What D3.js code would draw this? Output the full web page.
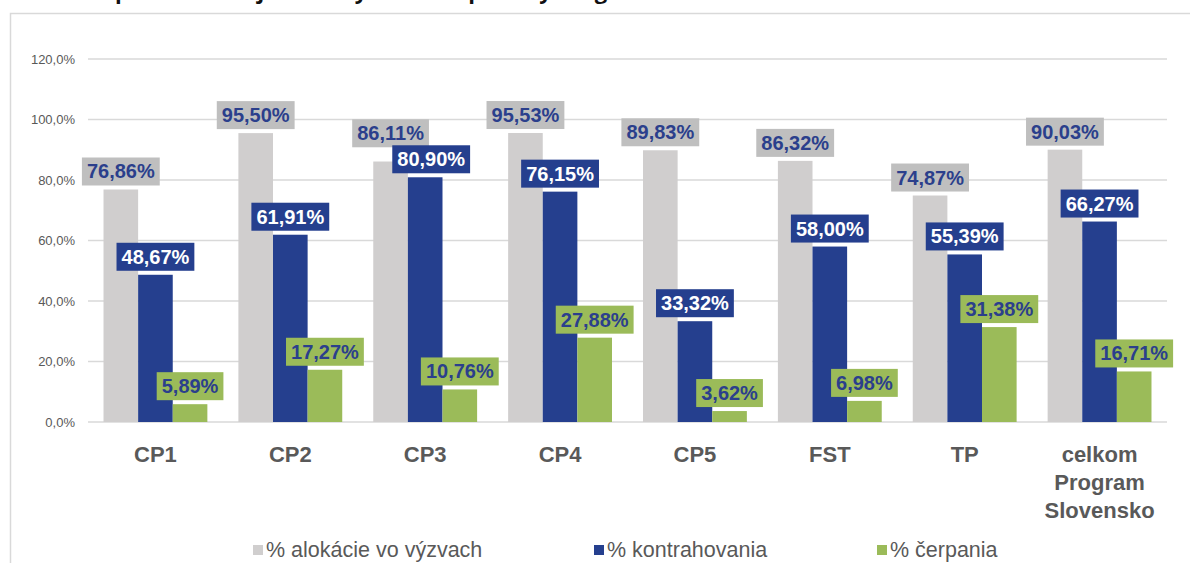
<!DOCTYPE html>
<html>
<head>
<meta charset="utf-8">
<script src="https://cdn.jsdelivr.net/npm/d3@7"></script>
<style>
  body { margin: 0; background: #fff; }
  svg { display: block; font-family: "Liberation Sans", Arial, sans-serif; }
</style>
</head>
<body>
<div id="wrapper"></div>
<script>
// data
const categories = ["CP1", "CP2", "CP3", "CP4", "CP5", "FST", "TP", "celkom Program Slovensko"];
const alokacia = [76.86, 95.50, 86.11, 95.53, 89.83, 86.32, 74.87, 90.03];
const kontrahovanie = [48.67, 61.91, 80.90, 76.15, 33.32, 58.00, 55.39, 66.27];
const cerpanie = [5.89, 17.27, 10.76, 27.88, 3.62, 6.98, 31.38, 16.71];
const seriesNames = ["% alokácie vo výzvach", "% kontrahovania", "% čerpania"];
const yTicks = [0, 20, 40, 60, 80, 100, 120];

const W = 1190, H = 563;
const colors = ["#d0cece", "#253f8e", "#9bbb59"];
const boxColors = ["#bfbfbf", "#253f8e", "#9bbb59"];
const labelColors = ["#2b3f8c", "#ffffff", "#2b3f8c"];

const series = [alokacia, kontrahovanie, cerpanie];

const svg = d3.select("#wrapper").append("svg")
  .attr("width", W).attr("height", H);

// title, cut off at the top edge (only the bottom of the glyphs shows)
svg.append("text")
  .attr("x", 8).attr("y", -1)
  .style("font-family", "'Open Sans', sans-serif")
  .style("font-size", "22px")
  .style("font-weight", "bold")
  .attr("fill", "#111")
  .text("Graf 1: Implementácia jednotlivých cieľov politiky Programu Slovensko k 31.12.2024");

// outer frame
svg.append("rect")
  .attr("x", 10.5).attr("y", 13.5)
  .attr("width", W + 20).attr("height", H)
  .attr("fill", "#fff")
  .attr("stroke", "#d9d9d9").attr("stroke-width", 1.5);

const plotLeft = 88, plotRight = 1167;

const y = d3.scaleLinear().domain([0, 120]).range([422, 59]);

const x0 = d3.scaleBand()
  .domain(categories)
  .range([plotLeft, plotRight])
  .paddingInner(0.23)
  .paddingOuter(0.115);

const x1 = d3.scaleBand()
  .domain([0, 1, 2])
  .range([0, x0.bandwidth()]);

// grid lines
svg.append("g").selectAll("line")
  .data(yTicks)
  .join("line")
  .attr("x1", plotLeft).attr("x2", plotRight)
  .attr("y1", d => y(d)).attr("y2", d => y(d))
  .attr("stroke", "#d9d9d9").attr("stroke-width", 1.5);

// y axis labels
const fmt = d => d3.format(".1f")(d).replace(".", ",") + "%";
svg.append("g").selectAll("text")
  .data(yTicks)
  .join("text")
  .attr("x", 75).attr("y", d => y(d) + 4.5)
  .attr("text-anchor", "end")
  .attr("fill", "#595959")
  .style("font-size", "13px")
  .text(fmt);

// bars
const flat = [];
series.forEach((vals, s) => vals.forEach((v, i) => flat.push({s, i, v})));

svg.append("g").selectAll("rect")
  .data(flat)
  .join("rect")
  .attr("x", d => x0(categories[d.i]) + x1(d.s))
  .attr("y", d => y(d.v))
  .attr("width", x1.bandwidth())
  .attr("height", d => y(0) - y(d.v))
  .attr("fill", d => colors[d.s]);

// label box positions: bottom 4px above the bar, gray label pushed up
// when it would run into the blue one (like excel does)
const BOX_H = 28;
flat.forEach(d => {
  d.cx = x0(categories[d.i]) + x1(d.s) + x1.bandwidth() / 2;
  d.bottom = y(d.v) - 4;
});
flat.filter(d => d.s === 0).forEach(d => {
  const blue = flat.find(e => e.s === 1 && e.i === d.i);
  const blueTop = blue.bottom - BOX_H;
  if (d.bottom > blueTop) {
    d.bottom = blueTop + 2;
    blue.cx += 6;
  }
});

const labFmt = v => d3.format(".2f")(v).replace(".", ",") + "%";
const labels = svg.append("g").selectAll("g")
  .data(flat)
  .join("g")
  .attr("transform", d => `translate(${d.cx},${d.bottom})`);

labels.each(function(d) {
  const g = d3.select(this);
  const rect = g.append("rect").attr("fill", boxColors[d.s]);
  const t = g.append("text")
    .attr("text-anchor", "middle")
    .attr("y", -7)
    .attr("fill", labelColors[d.s])
    .style("font-size", "20px")
    .style("font-weight", "bold")
    .text(labFmt(d.v));
  const w = t.node().getComputedTextLength() + 10;
  rect.attr("x", -w / 2).attr("y", -BOX_H).attr("width", w).attr("height", BOX_H);
});

// category labels
svg.append("g").selectAll("text")
  .data(categories)
  .join("text")
  .attr("text-anchor", "middle")
  .attr("fill", "#595959")
  .style("font-size", "22px")
  .style("font-weight", "bold")
  .attr("x", d => x0(d) + x0.bandwidth() / 2)
  .attr("y", 462)
  .each(function(d) {
    const words = d.split(" ");
    const el = d3.select(this);
    words.forEach((w, k) => {
      el.append("tspan")
        .attr("x", x0(d) + x0.bandwidth() / 2)
        .attr("dy", k === 0 ? 0 : 28)
        .text(w);
    });
  });

// legend
const legendX = [253, 594, 877];
const legend = svg.append("g").selectAll("g")
  .data(seriesNames)
  .join("g")
  .attr("transform", (d, i) => `translate(${legendX[i]},0)`);

legend.append("rect")
  .attr("x", 0).attr("y", 545)
  .attr("width", 10).attr("height", 10)
  .attr("fill", (d, i) => colors[i]);

legend.append("text")
  .attr("x", 13).attr("y", 557)
  .attr("fill", "#595959")
  .style("font-size", "21.5px")
  .text(d => d);
</script>
</body>
</html>
